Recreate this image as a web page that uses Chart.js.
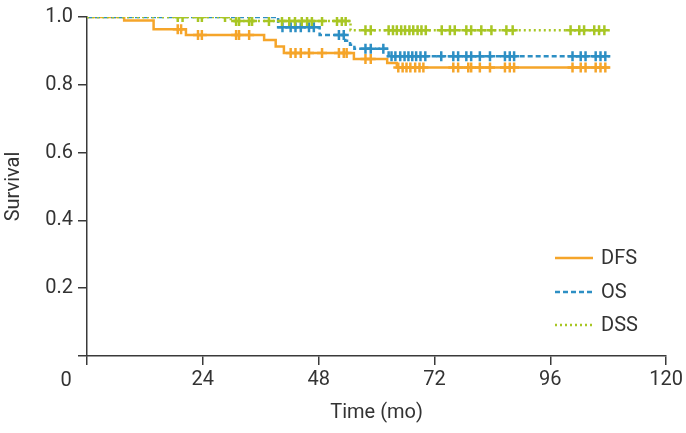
<!DOCTYPE html>
<html>
<head>
<meta charset="utf-8">
<script src="https://cdn.jsdelivr.net/npm/chart.js@4.4.1/dist/chart.umd.min.js"></script>
<style>
  html, body { margin: 0; padding: 0; background: #fff; }
  #km { display: block; }
</style>
</head>
<body>
<canvas id="km" width="686" height="433"></canvas>
<script>
// axis ticks
const xTicks = [0, 24, 48, 72, 96, 120];
const yTicks = [0, 0.2, 0.4, 0.6, 0.8, 1.0];

// Kaplan-Meier steps: [month, survival]
const dfsSteps = [[0, 1], [7.7, 0.990], [13.8, 0.964], [20.5, 0.947], [36.7, 0.932], [39.1, 0.913],
  [40.8, 0.894], [55.3, 0.876], [62.2, 0.864], [64.2, 0.851], [108.3, 0.851]];
const osSteps = [[0, 1], [39.6, 0.970], [48.2, 0.947], [53.5, 0.930], [54.5, 0.918], [55.4, 0.906],
  [62.5, 0.884], [108.3, 0.884]];
const dssSteps = [[0, 1], [29.8, 0.988], [54.6, 0.961], [108.3, 0.961]];

// censored times (months)
const dfsCensored = [18.8, 19.5, 23.0, 23.8, 30.9, 31.5, 33.6, 42.2, 43.2, 44.3, 46.0, 48.7, 52.2, 53.2, 53.8,
  57.7, 58.8, 64.5, 65.4, 66.2, 67.0, 68.0, 68.9, 69.7, 75.9, 76.9, 79.0, 79.6, 81.4, 83.5,
  86.6, 87.6, 88.5, 100.6, 102.3, 103.3, 105.4, 106.4, 107.4];
const osCensored = [40.5, 42.2, 43.2, 44.3, 46.0, 47.0, 52.2, 53.2, 57.7, 58.8, 61.4,
  63.1, 63.9, 64.9, 65.8, 66.6, 67.4, 68.2, 69.1, 70.1, 73.4, 75.9, 76.9, 78.6, 79.6, 81.4, 83.5,
  86.6, 87.6, 88.5, 100.6, 102.3, 103.3, 105.4, 106.4, 107.4];
const dssCensored = [18.8, 19.8, 23.0, 23.8, 28.6, 30.9, 31.5, 33.6, 34.2, 37.7, 40.4, 41.9, 43.1, 44.5,
  45.6, 46.6, 48.7, 51.8, 52.8, 53.6, 57.7, 58.8, 62.5, 63.4, 64.2, 65.1, 65.9, 66.8, 67.6, 68.5,
  69.3, 70.2, 73.5, 75.2, 76.2, 78.6, 79.6, 81.7, 83.8, 86.9, 88.2, 100.2, 102.0, 103.0, 105.1,
  106.1, 107.2];

const names = ['DFS', 'OS', 'DSS'];
const colors = ['#F5A52A', '#2D8FC4', '#A8C624'];
const dashes = [[], [5, 3], [2, 3]];

function survivalAt(steps, t) {
  let s = 1;
  for (const [tt, v] of steps) {
    if (tt <= t) s = v;
  }
  return s;
}

const allSteps = [dfsSteps, osSteps, dssSteps];
const allCensored = [dfsCensored, osCensored, dssCensored];
const drawOrder = [2, 1, 0];

const datasets = [];
allSteps.forEach((steps, i) => {
  datasets.push({
    type: 'line',
    label: names[i],
    data: steps.map(([x, y]) => ({ x, y })),
    stepped: 'before',
    borderColor: colors[i],
    borderWidth: 2.5,
    borderDash: dashes[i],
    pointRadius: 0,
    fill: false,
    order: drawOrder[i]
  });
  datasets.push({
    type: 'scatter',
    label: names[i] + ' censored',
    data: allCensored[i].map(t => ({ x: t, y: survivalAt(steps, t) })),
    pointStyle: 'cross',
    pointRadius: 5,
    borderColor: colors[i],
    borderWidth: 2.5,
    showLine: false,
    order: drawOrder[i]
  });
});

const fontFam = 'Roboto, "Liberation Sans", sans-serif';
const textCol = '#333';
const axisCol = '#3a3a3a';

// origin "0" label and legend box
const extras = {
  id: 'extras',
  afterDraw(chart) {
    const ctx = chart.ctx;
    const xs = chart.scales.x;
    const ys = chart.scales.y;
    ctx.save();
    ctx.fillStyle = textCol;
    ctx.font = '20px ' + fontFam;
    ctx.textAlign = 'center';
    ctx.textBaseline = 'middle';
    ctx.fillText('0', xs.getPixelForValue(0) - 21, ys.getPixelForValue(0) + 25);

    const lx = 555, lw = 38;
    const rows = [258, 292, 325];
    ctx.font = '20px ' + fontFam;
    ctx.textAlign = 'left';
    names.forEach((n, i) => {
      ctx.beginPath();
      ctx.setLineDash(dashes[i]);
      ctx.strokeStyle = colors[i];
      ctx.lineWidth = 2.5;
      ctx.moveTo(lx, rows[i]);
      ctx.lineTo(lx + lw, rows[i]);
      ctx.stroke();
      ctx.setLineDash([]);
      ctx.fillText(n, lx + lw + 8, rows[i] + 1);
    });
    ctx.restore();
  }
};

new Chart(document.getElementById('km'), {
  data: { datasets },
  options: {
    responsive: false,
    animation: false,
    layout: { padding: { top: 12, right: 17, left: 0, bottom: 0 } },
    plugins: { legend: { display: false }, tooltip: { enabled: false } },
    scales: {
      x: {
        type: 'linear',
        min: 0, max: 120,
        afterBuildTicks: s => { s.ticks = xTicks.map(v => ({ value: v })); },
        afterFit: s => { s.height = 77; },
        ticks: {
          callback: v => (v === 0 ? '' : String(v)),
          color: textCol, font: { family: fontFam, size: 20 }, padding: 3, maxRotation: 0
        },
        grid: { drawOnChartArea: false, drawTicks: true, tickLength: 9, color: axisCol, lineWidth: 1.5 },
        border: { display: true, color: axisCol, width: 1.5 },
        title: { display: true, text: 'Time (mo)', color: textCol, font: { family: fontFam, size: 20 }, padding: { top: 0, bottom: 8 } }
      },
      y: {
        type: 'linear',
        min: 0, max: 1,
        afterBuildTicks: s => { s.ticks = yTicks.map(v => ({ value: v })); },
        afterFit: s => { s.width = 87; },
        ticks: {
          callback: v => (v === 0 ? '' : v.toFixed(1)),
          color: textCol, font: { family: fontFam, size: 20 }, padding: 5
        },
        grid: { drawOnChartArea: false, drawTicks: true, tickLength: 9, color: axisCol, lineWidth: 1.5 },
        border: { display: true, color: axisCol, width: 1.5 },
        title: { display: true, text: 'Survival', color: textCol, font: { family: fontFam, size: 20 }, padding: { top: 2, bottom: 0 } }
      }
    }
  },
  plugins: [extras]
});
</script>
</body>
</html>
